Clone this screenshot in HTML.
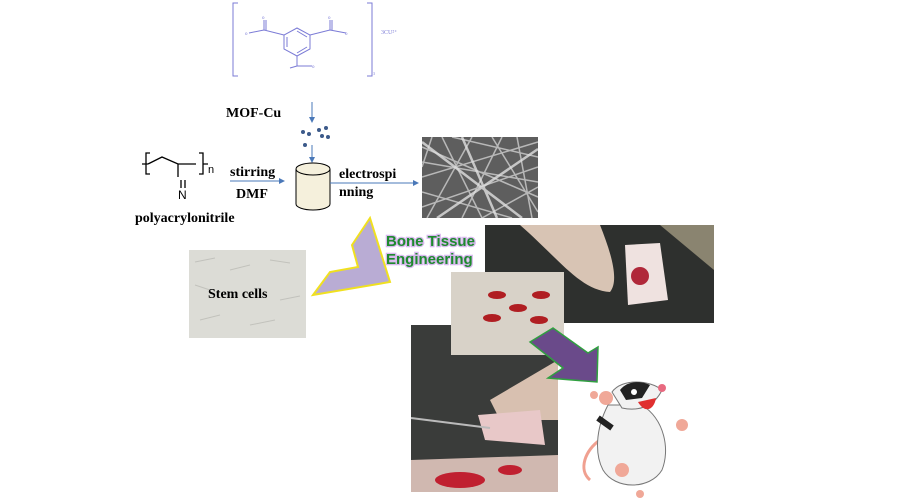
<!DOCTYPE html>
<html><head><meta charset="utf-8"><style>
html,body{margin:0;padding:0;background:#fff;width:900px;height:500px;overflow:hidden}
svg{display:block}
.s{font-family:"Liberation Serif",serif}
.b{font-family:"Liberation Sans",sans-serif}
</style></head><body>
<svg width="900" height="500" viewBox="0 0 900 500" xmlns="http://www.w3.org/2000/svg">
<defs>
<marker id="ah" markerWidth="6" markerHeight="6" refX="5" refY="3" orient="auto"><path d="M0,0 L6,3 L0,6 z" fill="#4a78b8"/></marker>
</defs>
<!-- top trimesate -->
<g stroke="#7b7bd6" fill="none" stroke-width="1">
<path d="M238,3 L233,3 L233,76 L238,76"/>
<path d="M367,3 L372,3 L372,76 L367,76"/>
<polygon points="297,28 310,35 310,49 297,56 284,49 284,35"/>
<path d="M287,37 L287,47 M297,31 L307,37 M297,53 L307,47"/>
<path d="M284,35 L264,30 L264,20 M266,30 L266,20 M264,30 L249,33 M310,35 L330,30 L330,20 M332,30 L332,20 M330,30 L346,33 M297,56 L297,66 L312,66 M297,66 L290,68"/>
</g>
<g fill="#7b7bd6" font-size="5" class="s"><text x="245" y="35">o</text><text x="262" y="19">o</text><text x="328" y="19">o</text><text x="345" y="35">o</text><text x="312" y="68">o</text></g>
<text x="381" y="34" font-size="6" fill="#7b7bd6" class="s">3CU²⁺</text>
<text x="373" y="75" font-size="4" fill="#7b7bd6" class="s">3</text>
<!-- MOF-Cu -->
<text x="226" y="117" font-size="14" font-weight="bold" class="s">MOF-Cu</text>
<line x1="312" y1="102" x2="312" y2="122" stroke="#4a78b8" marker-end="url(#ah)"/>
<g fill="#3c5a8a"><circle cx="303" cy="132" r="2"/><circle cx="309" cy="134" r="2"/><circle cx="319" cy="130" r="2"/><circle cx="322" cy="136" r="2"/><circle cx="328" cy="137" r="2"/><circle cx="326" cy="128" r="2"/><circle cx="305" cy="145" r="2"/></g>
<line x1="312" y1="145" x2="312" y2="162" stroke="#4a78b8" marker-end="url(#ah)"/>
<!-- cylinder -->
<path d="M296,169 L296,204 A17,6 0 0 0 330,204 L330,169" fill="#f5f0dc" stroke="#000"/>
<ellipse cx="313" cy="169" rx="17" ry="6" fill="#f5f0dc" stroke="#000"/>
<!-- PAN -->
<g stroke="#000" fill="none" stroke-width="1.3">
<path d="M142,164 L148,164 M150,153 L146,153 L146,174 L150,174 M148,164 L162,157 L178,164 L196,164 M178,164 L178,177 M199,153 L203,153 L203,174 L199,174 M203,164 L208,164"/>
<path d="M181,180 L181,188 M185,180 L185,188"/>
</g>
<text x="178" y="199" font-size="12" class="b">N</text>
<text x="208" y="173" font-size="11" class="b">n</text>
<text x="135" y="222" font-size="14" font-weight="bold" class="s">polyacrylonitrile</text>
<text x="230" y="176" font-size="14" font-weight="bold" class="s">stirring</text>
<text x="236" y="198" font-size="14" font-weight="bold" class="s">DMF</text>
<line x1="230" y1="181" x2="284" y2="181" stroke="#4a78b8" marker-end="url(#ah)"/>
<text x="339" y="178" font-size="14" font-weight="bold" class="s">electrospi</text>
<text x="339" y="196" font-size="14" font-weight="bold" class="s">nning</text>
<line x1="330" y1="183" x2="418" y2="183" stroke="#4a78b8" marker-end="url(#ah)"/>
<!-- SEM -->
<svg x="422" y="137" width="116" height="81" viewBox="0 0 116 81">
<rect width="116" height="81" fill="#5e5e5e"/>
<g stroke="#c8c8c8" stroke-width="1.5" opacity="0.85">
<path d="M0,10 L116,60 M0,40 L116,5 M20,0 L60,81 M80,0 L40,81 M0,70 L116,30 M95,0 L110,81 M0,25 L116,45 M50,0 L5,81 M70,0 L116,75 M0,55 L90,81 M30,0 L116,20 M10,0 L0,30 M60,81 L116,50"/>
</g>
<g stroke="#e0e0e0" stroke-width="2.5" opacity="0.8"><path d="M0,5 L100,81 M116,12 L15,81 M40,0 L75,81"/></g>
</svg>
<!-- stem cells -->
<rect x="189" y="250" width="117" height="88" fill="#dcdcd6"/>
<g stroke="#c2c2bc" stroke-width="1"><path d="M195,262 L215,258 M230,270 L250,265 M270,260 L290,263 M200,320 L220,315 M250,325 L275,320 M280,300 L300,296 M195,285 L210,290"/></g>
<text x="208" y="298" font-size="14" font-weight="bold" class="s">Stem cells</text>
<!-- chevron -->
<polygon points="370,218 390,282 313,295 330,272 358,267 352,245" fill="#b9acd4" stroke="#f0e020" stroke-width="2"/>
<g class="b" font-size="15" font-weight="bold" fill="#1e8a2e" stroke="#d8b8ee" stroke-width="2.5" paint-order="stroke">
<text x="386" y="246">Bone Tissue</text><text x="386" y="264">Engineering</text></g>
<!-- photo1 -->
<rect x="485" y="225" width="229" height="98" fill="#2e302e"/>
<path d="M520,225 C560,260 580,290 610,292 C620,280 610,250 600,225 Z" fill="#d8c4b4"/>
<path d="M625,245 L660,243 L668,300 L628,305 Z" fill="#efe2e0"/>
<circle cx="640" cy="276" r="9" fill="#b0283a"/>
<path d="M660,225 L714,225 L714,270 Z" fill="#8a8470"/>
<!-- photo3 -->
<rect x="411" y="325" width="147" height="167" fill="#3a3c3a"/>
<path d="M490,400 L558,360 L558,420 L500,420 Z" fill="#d8c0b0"/>
<path d="M478,415 L540,410 L545,445 L485,440 Z" fill="#e8c8c8"/>
<path d="M411,460 L558,455 L558,492 L411,492 Z" fill="#d0b8b0"/>
<g fill="#c02030"><ellipse cx="460" cy="480" rx="25" ry="8"/><ellipse cx="510" cy="470" rx="12" ry="5"/></g>
<line x1="411" y1="418" x2="490" y2="428" stroke="#bbb" stroke-width="2"/>
<!-- photo2 on top -->
<rect x="451" y="272" width="113" height="83" fill="#d8d2c8"/>
<g fill="#b01e22"><ellipse cx="497" cy="295" rx="9" ry="4"/><ellipse cx="541" cy="295" rx="9" ry="4"/><ellipse cx="518" cy="308" rx="9" ry="4"/><ellipse cx="492" cy="318" rx="9" ry="4"/><ellipse cx="539" cy="320" rx="9" ry="4"/></g>
<!-- purple arrow -->
<polygon points="530,342 553,328 588,353 598,347 597,382 548,378 563,368" fill="#6a4a8a" stroke="#30a040" stroke-width="1.5"/>
<!-- rat -->
<g>
<path d="M600,440 C585,450 578,470 590,480" fill="none" stroke="#f0a090" stroke-width="3"/>
<path d="M608,405 C595,430 595,455 603,470 C615,490 650,490 662,470 C670,450 665,420 642,405 Z" fill="#f2f2f2" stroke="#777"/>
<path d="M612,392 C622,378 650,380 662,390 C655,405 640,412 622,408 Z" fill="#f2f2f2" stroke="#777"/>
<path d="M620,390 C628,380 642,381 650,385 L642,398 L626,400 Z" fill="#222"/>
<circle cx="634" cy="392" r="3" fill="#fff"/>
<circle cx="662" cy="388" r="4" fill="#e86a80"/>
<path d="M638,402 C645,414 654,410 656,398 Z" fill="#e03030"/>
<path d="M598,418 L612,428" stroke="#222" stroke-width="6"/>
<g fill="#f0a898"><circle cx="606" cy="398" r="7"/><circle cx="682" cy="425" r="6"/><circle cx="622" cy="470" r="7"/><circle cx="640" cy="494" r="4"/><circle cx="594" cy="395" r="4"/></g>
</g>
</svg>
</body></html>
